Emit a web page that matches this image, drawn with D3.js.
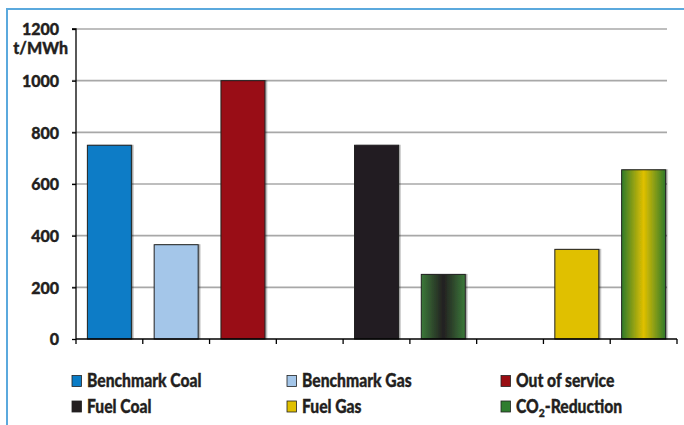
<!DOCTYPE html>
<html>
<head>
<meta charset="utf-8">
<script src="https://cdn.jsdelivr.net/npm/d3@7"></script>
<style>
  html, body { margin: 0; padding: 0; background: #fff; }
  svg text { font-family: Lato, "Open Sans", sans-serif; font-weight: 900; fill: #231f20; stroke: #231f20; stroke-width: 0.35px; }
</style>
</head>
<body>
<svg id="chart" width="684" height="425"></svg>
<script>
// Emission values per slot, t/MWh (null = empty slot)
const slots = ["s1", "s2", "s3", "s4", "s5", "s6", "s7", "s8", "s9"];
const values = [750, 365, 1000, null, 750, 250, null, 347, 655];
const fills = ["coal", "gas", "out", null, "fuelcoal", "co2coal", null, "fuelgas", "co2gas"];
const yTicks = [0, 200, 400, 600, 800, 1000, 1200];
const legendLabels = ["Benchmark Coal", "Benchmark Gas", "Out of service", "Fuel Coal", "Fuel Gas", "CO2-Reduction"];
const legendKeys = ["coal", "gas", "out", "fuelcoal", "fuelgas", "co2"];

const colors = {
  coal: "#0a7cc6",
  gas: "#a4c6e9",
  out: "#990d12",
  fuelcoal: "#231f20",
  fuelgas: "#e0c000",
  co2: "#2f7d2f"
};

const svg = d3.select("#chart");

// outer frame (left and top edges visible)
svg.append("path")
  .attr("d", "M7,425 L7,9 L684,9")
  .attr("fill", "none")
  .attr("stroke", "#5ba9dd")
  .attr("stroke-width", 2);

const defs = svg.append("defs");
function stripe(id, edge, mid) {
  const g = defs.append("linearGradient").attr("id", id)
    .attr("x1", "0%").attr("x2", "100%").attr("y1", "0%").attr("y2", "0%");
  g.append("stop").attr("offset", "0%").attr("stop-color", edge);
  g.append("stop").attr("offset", "50%").attr("stop-color", mid);
  g.append("stop").attr("offset", "100%").attr("stop-color", edge);
}
stripe("g-co2coal", "#3b7a3a", "#231f20");
stripe("g-co2gas", "#2f7a2c", "#e0c000");

const shadow = defs.append("filter").attr("id", "shadow")
  .attr("x", "-10%").attr("y", "-10%").attr("width", "130%").attr("height", "130%");
shadow.append("feDropShadow").attr("dx", 1.5).attr("dy", 0).attr("stdDeviation", 0.6)
  .attr("flood-color", "#000").attr("flood-opacity", 0.35);

function fillOf(k) {
  if (k === "co2coal") return "url(#g-co2coal)";
  if (k === "co2gas") return "url(#g-co2gas)";
  return colors[k];
}

const x0 = 76, x1 = 677;
const x = d3.scaleBand().domain(slots).range([x0, x1]).paddingInner(0).paddingOuter(0);
const y = d3.scaleLinear().domain([0, 1200]).range([339, 29]);

// gridlines
svg.append("g").selectAll("line")
  .data(yTicks.filter(d => d > 0))
  .join("line")
  .attr("x1", 72).attr("x2", 667)
  .attr("y1", d => y(d)).attr("y2", d => y(d))
  .attr("stroke", "#a8a8a8").attr("stroke-width", 1.6);

// y axis
const yAxis = svg.append("g").attr("transform", `translate(${x0},0)`)
  .call(d3.axisLeft(y).tickValues(yTicks).tickSize(4).tickPadding(13).tickFormat(d3.format("d")));
yAxis.select(".domain").attr("stroke", "#000").attr("stroke-width", 1.3).attr("d", `M-4,${y(1200)}H0V${y(0)}`);
yAxis.selectAll(".tick line").attr("stroke", "#000").attr("stroke-width", 1.3);
yAxis.selectAll(".tick text").style("font-size", "16px").attr("fill", "#231f20").attr("dy", "0.36em");

svg.append("text")
  .attr("x", 68).attr("y", 54)
  .attr("text-anchor", "end")
  .style("font-size", "16px")
  .text("t/MWh");

// bars
const bw = 44;
svg.append("g").selectAll("rect")
  .data(slots.map((s, i) => ({ s, v: values[i], k: fills[i] })).filter(d => d.v !== null))
  .join("rect")
  .attr("x", d => x(d.s) + x.bandwidth() / 2 - bw / 2)
  .attr("width", bw)
  .attr("y", d => y(d.v))
  .attr("height", d => y(0) - y(d.v))
  .attr("fill", d => fillOf(d.k))
  .attr("stroke", "#222")
  .attr("stroke-width", 1)
  .attr("filter", "url(#shadow)");

// x axis
const xAxis = svg.append("g").attr("transform", `translate(0,${y(0)})`)
  .call(d3.axisBottom(x).tickSize(0).tickFormat(""));
xAxis.select(".domain").attr("stroke", "#000").attr("stroke-width", 1.3).attr("d", `M${x0},0H${x1}`);
xAxis.selectAll(".tick").remove();
xAxis.selectAll(".sep")
  .data(d3.range(slots.length + 1))
  .join("line")
  .attr("class", "sep")
  .attr("x1", i => x0 + i * x.step()).attr("x2", i => x0 + i * x.step())
  .attr("y1", 0).attr("y2", 5)
  .attr("stroke", "#000").attr("stroke-width", 1.3);

// legend
const legendX = [72, 287, 501];
const legendY = [381, 406.5];
const lg = svg.append("g");
legendLabels.forEach((label, i) => {
  const cx = legendX[i % 3], cy = legendY[Math.floor(i / 3)];
  lg.append("rect")
    .attr("x", cx).attr("y", cy - 5.5)
    .attr("width", 9.5).attr("height", 11)
    .attr("fill", colors[legendKeys[i]])
    .attr("stroke", "#222").attr("stroke-width", 0.8);
  const t = lg.append("text")
    .attr("transform", `translate(${cx + 15},${cy + 6}) scale(0.87,1)`)
    .style("font-size", "18px");
  if (label.startsWith("CO2")) {
    t.append("tspan").text("CO");
    t.append("tspan").attr("dy", 4).style("font-size", "12px").text("2");
    t.append("tspan").attr("dy", -4).text(label.slice(3));
  } else {
    t.text(label);
  }
});
</script>
</body>
</html>
